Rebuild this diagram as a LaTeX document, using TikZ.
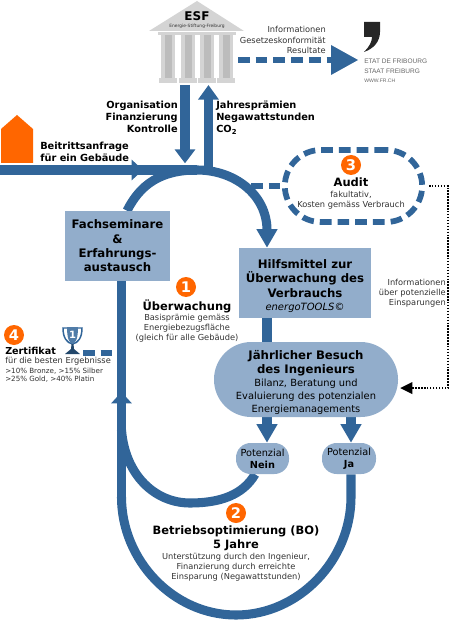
\documentclass[tikz,border=0pt]{standalone}
\usepackage{fontspec}
\setmainfont{DejaVu Sans}
\newfontfamily\logofont{Liberation Sans}
\usepackage{xcolor}
\usetikzlibrary{arrows.meta, backgrounds}
\definecolor{esfBlue}{RGB}{49, 101, 153}
\definecolor{esfLight}{RGB}{146, 173, 203}
\definecolor{esfOrange}{RGB}{255, 102, 0}
\definecolor{esfText}{RGB}{50, 50, 50}
\definecolor{esfStone}{RGB}{212, 212, 212}
\definecolor{esfStoneDark}{RGB}{188, 188, 188}
\newcommand{\visitfont}{\normalfont\fontsize{7.4}{9.2}\selectfont}

\begin{document}
\begin{tikzpicture}[
  x=0.75pt, y=-0.75pt,
  box/.style={
    rectangle, fill=esfLight, inner sep=0pt, align=center,
    font=\fontsize{8.8}{10.7}\selectfont\bfseries
  },
  pill/.style={box, rounded corners=#1},
  heading/.style={font=\fontsize{7.35}{9}\selectfont\bfseries, align=center, inner sep=0pt},
  note/.style={font=\fontsize{6.2}{7.6}\selectfont\color{esfText}, align=center, inner sep=0pt},
  small/.style={font=\fontsize{5.35}{6.2}\selectfont\color{esfText}, align=left, inner sep=0pt},
  badge/.style={
    circle, fill=esfOrange, text=white, inner sep=0pt, minimum size=15pt,
    font=\fontsize{11}{11}\selectfont\bfseries
  },
  flow/.style={draw=esfBlue, line width=6.8pt},
  dash link/.style={draw=esfBlue, line width=4.3pt, dash pattern=on 8.8pt off 4.5pt},
  dot link/.style={draw=black, line width=1.1pt, dash pattern=on 1.1pt off 1.1pt},
  head/.style={-{Triangle[length=#1, width=15pt]}},
  >=Stealth
]
\useasboundingbox (0,0) rectangle (450,620);

\coordinate (spine) at (267,0);
\coordinate (rise) at (121.5,0);
\coordinate (jaline) at (351,0);
\coordinate (rail) at (448,0);
\coordinate (esffoot) at (197,85);
\coordinate (looptop) at (197,170);
\coordinate (entry) at (0,170);
\coordinate (auditfoot) at (251,186);

\fill[esfOrange] (1,163) -- (1,129) -- (17,115) -- (33,129) -- (33,163) -- cycle;

\fill[esfStone] (197,1) -- (244,31) -- (149,31) -- cycle;
\foreach \x in {168,188,207,226} {
  \fill[esfStone] (\x-10,32) rectangle (\x+10,35);
  \fill[esfStone] (\x-7,35) rectangle (\x+7,78);
  \fill[esfStoneDark] (\x-3.5,35) rectangle (\x+3.5,78);
  \fill[esfStone] (\x-9,78) rectangle (\x+9,83);
}
\node[font=\fontsize{9}{9}\selectfont\bfseries, inner sep=0pt] (esf) at (197,16) {ESF};
\node[font=\fontsize{3.3}{4}\selectfont\color{esfText}, inner sep=0pt] (esfname) at (197,26) {Energie-Stiftung-Freiburg};

\node[heading, align=right, anchor=east] (orga) at (178,117)
  {Organisation\\Finanzierung\\Kontrolle};
\node[heading, align=left, anchor=west] (praemien) at (216,118)
  {Jahresprämien\\Negawattstunden\\CO\textsubscript{2}};
\node[heading, align=left, anchor=west] (anfrage) at (40,152)
  {Beitrittsanfrage\\für ein Gebäude};
\node[note, align=right, anchor=east] (info) at (326,40)
  {Informationen\\Gesetzeskonformität\\Resultate};

\fill[black!85] (364,22) -- (380,22) -- (380,32) .. controls (380,42) and (373,49) .. (364,52)
  .. controls (369,47) and (372,42) .. (372,37) -- (364,37) -- cycle;
\node[font=\logofont\fontsize{4.9}{7.6}\selectfont\color{black!60}, align=left, anchor=west, inner sep=0pt] (etat) at (364,66)
  {ETAT DE FRIBOURG\\STAAT FREIBURG};
\node[font=\logofont\fontsize{3.8}{4}\selectfont\color{black!60}, anchor=west, inner sep=0pt] (web) at (364,81) {WWW.FR.CH};

\node[box, minimum width=78.75pt, minimum height=52.5pt] (fach) at (117.5,246)
  {Fachseminare\\\&\\Erfahrungs-\\austausch};
\node[box, minimum width=99pt, minimum height=52.5pt] (hilfs) at (305,283)
  {\rule{0pt}{11pt}Hilfsmittel zur\\Überwachung des\\Verbrauchs\\[-1pt]\normalfont\itshape\fontsize{7.5}{9}\selectfont energoTOOLS\textcopyright};
\node[pill=28pt, minimum width=138pt, minimum height=56.25pt] (visit) at (306,379.5)
  {\rule{0pt}{11pt}Jährlicher Besuch\\des Ingenieurs\\[-1pt]\visitfont Bilanz, Beratung und\\[-1.2pt]\visitfont Evaluierung des potenzialen\\[-1.2pt]\visitfont Energiemanagements};
\node[pill=11pt, minimum width=39.75pt, minimum height=23.25pt, font=\fontsize{7.3}{9}\selectfont] (nein) at (262.5,458.5)
  {Potenzial\\\textbf{Nein}};
\node[pill=11pt, minimum width=40.5pt, minimum height=23.25pt, font=\fontsize{7.3}{9}\selectfont] (ja) at (349,458.5)
  {Potenzial\\\textbf{Ja}};

\node[rectangle, rounded corners=27pt, dash link, minimum width=103pt, minimum height=54pt] (audit) at (353.5,186) {};
\node[badge] (three) at (351,165) {3};
\node[font=\fontsize{8.6}{9}\selectfont\bfseries, inner sep=0pt] (audithead) at (351,182) {Audit};
\node[note] (auditnote) at (351,200) {fakultativ,\\Kosten gemäss Verbrauch};

\node[badge] (one) at (186,287) {1};
\node[font=\fontsize{8.6}{9}\selectfont\bfseries, inner sep=0pt] (ueber) at (187,306) {Überwachung};
\node[note] (uebernote) at (187,328.5)
  {Basisprämie gemäss\\Energiebezugsfläche\\(gleich für alle Gebäude)};

\node[badge] (two) at (236,513) {2};
\node[font=\fontsize{8.6}{10.5}\selectfont\bfseries, align=center, inner sep=0pt] (bo) at (236,538)
  {Betriebsoptimierung (BO)\\5 Jahre};
\node[note] (bonote) at (236,567.5)
  {Unterstützung durch den Ingenieur,\\Finanzierung durch erreichte\\Einsparung (Negawattstunden)};

\node[badge] (four) at (14,335) {4};
\node[font=\fontsize{7.2}{9}\selectfont\bfseries, anchor=west, inner sep=0pt] (zert) at (5,351) {Zertifikat};
\node[note, anchor=west] (zertnote) at (5,361) {für die besten Ergebnisse};
\node[small, anchor=west] (stufen) at (5,375) {>10\% Bronze, >15\% Silber\\>25\% Gold, >40\% Platin};

\draw[esfBlue, line width=1.1pt] (63,328) .. controls (63,338) and (67,343) .. (72.5,344)
  .. controls (78,343) and (82,338) .. (82,328) -- cycle;
\fill[esfBlue!85] (67,327) -- (78,327) .. controls (78,338) and (76,343) .. (72.5,344)
  .. controls (69,343) and (67,338) .. (67,327) -- cycle;
\fill[esfBlue!70!black] (71.5,344) -- (73.5,344) -- (74,349) -- (80,354) -- (65,354) -- (71,349) -- cycle;
\node[font=\fontsize{7.5}{8}\selectfont\bfseries, text=white, inner sep=0pt] (cup) at (72.5,335) {1};
\coordinate (cupfoot) at (83,353);
\coordinate (risemark) at (117,353);

\begin{scope}[on background layer]
  \draw[flow] (entry) -- (looptop);
  \draw[flow, head=8.5pt] (entry) -- (143,170);
  \draw[flow] (fach.north -| 127,0) .. controls (140,185) and (160,170) .. (looptop);
  \draw[flow, head=14pt] (looptop) .. controls (235,170) and (267,195) .. (hilfs.north -| spine);
  \draw[flow] (hilfs.south -| spine) -- (visit.north -| spine);
  \draw[flow, head=14pt] (visit.south -| spine) -- (nein.north -| spine);
  \draw[flow, head=14pt] (visit.south -| jaline) -- (ja.north -| jaline);

  \draw[flow, head=10.5pt] ([xshift=-9pt]esffoot) -- ([xshift=-9pt,yshift=5pt]looptop);
  \draw[flow, head=11pt] ([xshift=8.6pt,yshift=-3.5pt]looptop) -- ([xshift=8.6pt]esffoot);

  \draw[flow] (fach.south -| rise) -- (121.5,497);
  \draw[flow, head=8.5pt] (121.5,404) -- (121.5,392);
  \draw[flow] (121.5,430) .. controls (125,475) and (155,503) .. (190,503)
    .. controls (220,503) and (243,495) .. ([xshift=-5.6pt]nein.south);
  \draw[flow] (121.5,497) .. controls (121.5,560) and (173,615) .. (236,615)
    .. controls (299,615) and (351,560) .. (351,497) -- (ja.south -| jaline);

  \draw[dash link] (238,60) -- (331,60);
  \fill[esfBlue] (331,45) -- (358,60) -- (331,75) -- cycle;
  \draw[dash link] (auditfoot) -- (audit.west);
  \draw[dash link] (cupfoot) -- (risemark);
\end{scope}

\coordinate (dotstart) at ([xshift=3pt]audit.east);
\coordinate (dotend) at ([shift={(1.5pt,-6.4pt)}]visit.east);
\draw[dot link] (dotstart) -- (dotstart -| rail) -- (dotend -| rail) -- ([xshift=8pt]dotend);
\fill[black] (dotend) -- ++(9pt,-4.5pt) -- ++(0,9pt) -- cycle;
\node[note, align=right, anchor=east] (spar) at (446,293.5)
  {Informationen\\über potenzielle\\Einsparungen};

\end{tikzpicture}
\end{document}
